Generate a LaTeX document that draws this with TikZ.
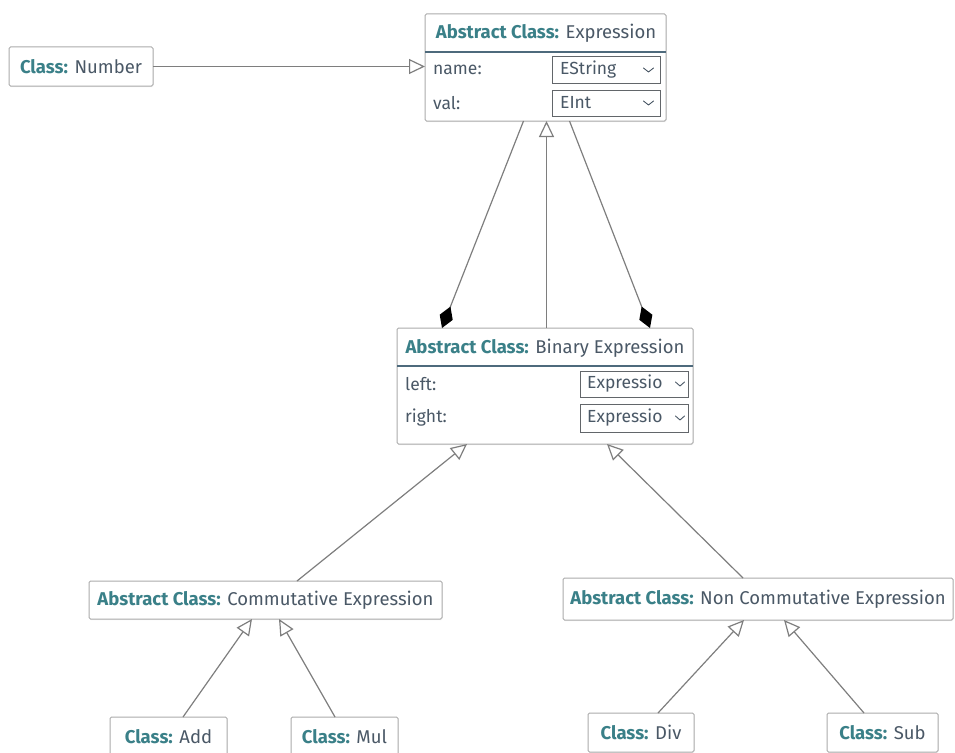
\documentclass[tikz,border=0pt]{standalone}
\usepackage{fontspec}
\setmainfont{Fira Sans}
\usetikzlibrary{arrows.meta,shadows,calc}

\definecolor{kwteal}{HTML}{3A8088}
\definecolor{txtgrey}{HTML}{4A5866}
\definecolor{boxedge}{HTML}{ABABAB}
\definecolor{wire}{HTML}{7E7E7E}
\definecolor{hdrrule}{HTML}{4E6A7C}
\definecolor{seledge}{HTML}{62666A}

\newcommand{\kw}[1]{\textbf{\color{kwteal}#1}}

\tikzset{
  headfont/.style={font=\fontsize{18.5}{22}\selectfont},
  fieldfont/.style={font=\fontsize{17.5}{21}\selectfont},
  classbox/.style={draw=boxedge, fill=white, line width=1pt, rounded corners=1.5pt,
    inner sep=0pt, outer sep=0pt, text=txtgrey, headfont,
    drop shadow={opacity=0.12, shadow xshift=0.6pt, shadow yshift=-1.2pt}},
  headtxt/.style={text=txtgrey, headfont, inner sep=0pt},
  fieldtxt/.style={text=txtgrey, fieldfont, inner sep=0pt, anchor=west},
  selbox/.style={draw=seledge, line width=1pt, fill=white, inner sep=0pt},
  hdrline/.style={draw=hdrrule, line width=1.1pt},
  inh/.style={draw=wire, line width=1.2pt, -{Triangle[open, length=16pt, width=15pt, fill=white]}},
  comp/.style={draw=wire, line width=1.2pt, -{Diamond[length=23pt, width=14pt, fill=black, color=black]}},
  chev/.style={draw=txtgrey, line width=0.9pt, line cap=round, line join=round},
}

\begin{document}
\begin{tikzpicture}[x=1pt, y=-1pt]
\useasboundingbox (0,0) rectangle (955,752);
\path[clip] (0,0) rectangle (955,752);

% ---- plain class boxes ----
\node[classbox, minimum width=144pt, minimum height=39pt] (num) at (81,66.5) {\kw{Class:} Number};

% ---- Expression ----
\node[classbox, minimum width=241pt, minimum height=107pt] (expr) at (545.5,67.5) {};
\node[headtxt] (exprhead) at (546,33) {\kw{Abstract Class:} Expression};
\draw[hdrline] (expr.west |- 0,52) -- (expr.east |- 0,52);
\node[fieldtxt] (exprname) at (433,70) {name:};
\node[fieldtxt] (exprval) at (433,103) {val:};
\node[selbox, minimum width=108pt, minimum height=26pt] (selname) at (606,70) {};
\node[fieldtxt] at (560,70) {EString};
\draw[chev] ([xshift=-17pt,yshift=2pt]selname.east) -- ++(5,4) -- ++(5,-4);
\node[selbox, minimum width=108pt, minimum height=26pt] (selval) at (606,103) {};
\node[fieldtxt] at (560,103) {EInt};
\draw[chev] ([xshift=-17pt,yshift=2pt]selval.east) -- ++(5,4) -- ++(5,-4);

% ---- Binary Expression ----
\node[classbox, minimum width=296pt, minimum height=116pt] (bin) at (545,386) {};
\node[headtxt] (binhead) at (545,348) {\kw{Abstract Class:} Binary Expression};
\draw[hdrline] (bin.west |- 0,366) -- (bin.east |- 0,366);
\node[fieldtxt] (binleft) at (405,384) {left:};
\node[fieldtxt] (binright) at (405,418) {right:};
\node[selbox, minimum width=108pt, minimum height=26pt] (selleft) at (634,384) {};
\node[fieldtxt] at (587,384) {Expressio};
\draw[chev] ([xshift=-13pt,yshift=2pt]selleft.east) -- ++(4.5,4) -- ++(4.5,-4);
\node[selbox, minimum width=108pt, minimum height=28pt] (selright) at (634,418) {};
\node[fieldtxt] at (587,418) {Expressio};
\draw[chev] ([xshift=-13pt,yshift=2pt]selright.east) -- ++(4.5,4) -- ++(4.5,-4);

% ---- second level ----
\node[classbox, minimum width=353pt, minimum height=38pt] (comm) at (265.5,600) {\kw{Abstract Class:} Commutative Expression};
\node[classbox, minimum width=390pt, minimum height=42pt] (noncomm) at (758,599) {\kw{Abstract Class:} Non Commutative Expression};

% ---- leaves ----
\node[classbox, minimum width=117pt, minimum height=39pt] (add) at (168.5,736.5) {\kw{Class:} Add};
\node[classbox, minimum width=107pt, minimum height=39pt] (mul) at (344.5,736.5) {\kw{Class:} Mul};
\node[classbox, minimum width=106pt, minimum height=39pt] (div) at (641,732.5) {\kw{Class:} Div};
\node[classbox, minimum width=111pt, minimum height=39pt] (sub) at (882.5,732.5) {\kw{Class:} Sub};

% ---- connectors ----
\draw[inh] (num.east) -- (num.east -| expr.west);
\draw[inh] ([xshift=1.5pt]bin.north) -- ([xshift=1pt]expr.south);
\draw[comp] ([xshift=-22pt]expr.south) -- ([xshift=-103pt]bin.north);
\draw[comp] ([xshift=24pt]expr.south) -- ([xshift=105pt]bin.north);

\draw[inh] ([xshift=31.5pt]comm.north) -- ([xshift=-78pt]bin.south);
\draw[inh] ([xshift=-15pt]noncomm.north) -- ([xshift=62pt]bin.south);

\draw[inh] ([xshift=14.5pt]add.north) -- ([xshift=-13.5pt]comm.south);
\draw[inh] ([xshift=-9.5pt]mul.north) -- ([xshift=13.5pt]comm.south);
\draw[inh] ([xshift=17pt]div.north) -- ([xshift=-14pt]noncomm.south);
\draw[inh] ([xshift=-18.5pt]sub.north) -- ([xshift=26pt]noncomm.south);
\end{tikzpicture}
\end{document}
